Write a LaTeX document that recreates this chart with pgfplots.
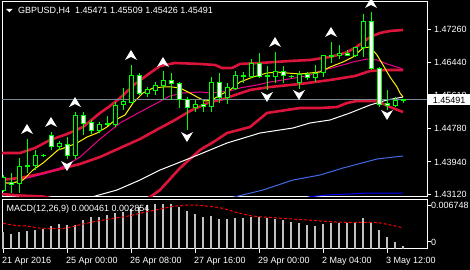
\documentclass[border=0pt]{standalone}
\usepackage{fontspec}
\setmainfont{Liberation Sans}
\usepackage{pgfplots}
\pgfplotsset{compat=1.18}
\usepackage{pgfplotstable}
\definecolor{mtred}{RGB}{220,20,60}
\definecolor{mtlime}{RGB}{0,255,0}
\definecolor{mtgrey}{RGB}{119,136,153}
\definecolor{mtroyal}{RGB}{65,105,225}
\definecolor{mtsilver}{RGB}{192,192,192}
\newcommand\mtfont{\fontsize{9bp}{10bp}\selectfont}

\pgfdeclareplotmark{fracup}{%
  \pgfpathmoveto{\pgfqpoint{0bp}{5bp}}%
  \pgfpathlineto{\pgfqpoint{6bp}{-5bp}}%
  \pgfpathlineto{\pgfqpoint{0bp}{-2bp}}%
  \pgfpathlineto{\pgfqpoint{-6bp}{-5bp}}%
  \pgfpathclose\pgfusepathqfill}
\pgfdeclareplotmark{fracdown}{%
  \pgfpathmoveto{\pgfqpoint{0bp}{-5bp}}%
  \pgfpathlineto{\pgfqpoint{6bp}{5bp}}%
  \pgfpathlineto{\pgfqpoint{0bp}{2bp}}%
  \pgfpathlineto{\pgfqpoint{-6bp}{5bp}}%
  \pgfpathclose\pgfusepathqfill}

\pgfplotstableread{
i o h l c
0 1.43238 1.43613 1.43188 1.43563
1 1.43420 1.43671 1.43170 1.43370
2 1.43405 1.44031 1.43170 1.43838
3 1.43831 1.44507 1.43671 1.43846
4 1.43856 1.44239 1.43738 1.44106
5 1.44101 1.44131 1.44056 1.44114
6 1.44614 1.44697 1.44239 1.44322
7 1.44322 1.44464 1.44239 1.44407
8 1.44389 1.44572 1.44006 1.44106
9 1.44106 1.45183 1.44006 1.45090
10 1.45090 1.45183 1.44614 1.44907
11 1.44922 1.44990 1.44639 1.44722
12 1.44722 1.44940 1.44657 1.44865
13 1.44865 1.45090 1.44840 1.44897
14 1.44865 1.45448 1.44807 1.45365
15 1.45383 1.45783 1.45240 1.45448
16 1.45433 1.46367 1.45408 1.46091
17 1.46091 1.46159 1.45616 1.45658
18 1.45658 1.45823 1.45573 1.45741
19 1.45723 1.45948 1.45616 1.45841
20 1.45841 1.46216 1.45490 1.45966
21 1.45966 1.46159 1.45490 1.45908
22 1.45908 1.45949 1.45283 1.45508
23 1.45508 1.45573 1.44740 1.45308
24 1.45308 1.45490 1.45198 1.45390
25 1.45390 1.45490 1.45198 1.45333
26 1.45323 1.46059 1.45198 1.45933
27 1.45933 1.46159 1.45408 1.45548
28 1.45548 1.45908 1.45383 1.45798
29 1.45783 1.46216 1.45741 1.46116
30 1.46086 1.46199 1.45908 1.46096
31 1.46074 1.46509 1.46034 1.46409
32 1.46409 1.46659 1.46034 1.46074
33 1.46084 1.46341 1.45741 1.46096
34 1.46074 1.46699 1.45908 1.46199
35 1.46199 1.46341 1.45908 1.46091
36 1.46084 1.46116 1.46041 1.46071
37 1.45916 1.46216 1.45778 1.46134
38 1.46124 1.46199 1.45991 1.46059
39 1.46059 1.46367 1.45949 1.46159
40 1.46174 1.46617 1.46059 1.46592
41 1.46587 1.46950 1.46409 1.46597
42 1.46599 1.46867 1.46509 1.46659
43 1.46659 1.46742 1.46579 1.46592
44 1.46592 1.46825 1.46574 1.46810
45 1.46800 1.47643 1.46574 1.47450
46 1.47450 1.47701 1.46241 1.46284
47 1.46284 1.46324 1.45308 1.45383
48 1.45403 1.45741 1.45240 1.45365
49 1.45358 1.45573 1.45323 1.45490
50 1.45471 1.45509 1.45426 1.45491
}\candles

\pgfplotstableread{
i m s
0 0.002335 0.003468
1 0.002065 0.003266
2 0.002335 0.003131
3 0.002470 0.003104
4 0.002605 0.002902
5 0.002740 0.002767
6 0.003145 0.002740
7 0.003414 0.002740
8 0.003280 0.002834
9 0.003280 0.003104
10 0.003954 0.003374
11 0.004359 0.003603
12 0.004359 0.003806
13 0.004629 0.003995
14 0.004899 0.004184
15 0.005034 0.004319
16 0.005439 0.004521
17 0.005709 0.004791
18 0.005979 0.005034
19 0.006114 0.005236
20 0.006114 0.005466
21 0.006114 0.005709
22 0.005709 0.005844
23 0.005169 0.005938
24 0.004764 0.005938
25 0.004359 0.005844
26 0.004494 0.005736
27 0.004089 0.005601
28 0.004089 0.005331
29 0.004224 0.004994
30 0.004224 0.004724
31 0.004359 0.004481
32 0.004359 0.004359
33 0.004224 0.004292
34 0.004089 0.004224
35 0.003954 0.004116
36 0.003684 0.004062
37 0.003549 0.003981
38 0.003280 0.003914
39 0.003145 0.003846
40 0.003414 0.003752
41 0.003549 0.003684
42 0.003549 0.003617
43 0.003549 0.003603
44 0.003549 0.003603
45 0.004224 0.003603
46 0.003549 0.003603
47 0.002605 0.003549
48 0.001660 0.003334
49 0.000985 0.003104
50 0.000461 0.002854
}\macd

\pgfplotsset{
  mtaxis/.style={
    scale only axis, xmin=-0.125, xmax=53,
    axis line style={white, line width=1bp},
    tick style={white, line width=1bp},
    major tick length=4bp, tick align=outside,
    ytick pos=right, yticklabel pos=right,
    scaled ticks=false,
    ticklabel style={text=white, font=\mtfont},
    yticklabel style={anchor=west, inner sep=0pt, xshift=3bp},
  }
}

\begin{document}
\begin{tikzpicture}
\fill[black] (0bp,0bp) rectangle (470bp,270bp);

\begin{axis}[mtaxis, at={(2bp,73bp)}, anchor=south west,
  width=425bp, height=195bp,
  ymin=1.43063, ymax=1.47943,
  xtick=\empty,
  ytick={1.43120,1.43940,1.44780,1.45610,1.46440,1.47260},
  yticklabels={1.43120,1.43940,1.44780,1.45610,1.46440,1.47260},
  extra y ticks={1.45491}, extra y tick labels={1.45491},
  extra y tick style={yticklabel style={fill=white, text=black, minimum width=42bp, minimum height=11bp, xshift=-6bp}},
]
% Bollinger bands
\addplot[mtred, line width=2.6bp, line join=round] coordinates {(-0.375,1.44164) (2.125,1.44164) (4,1.44289) (5.875,1.44489) (8,1.44639) (10,1.44815) (12.125,1.45165) (13.375,1.45340) (14.625,1.45540) (16.5,1.45891) (18.375,1.46166) (19.625,1.46341) (21.5,1.46417) (24.625,1.46392) (26.5,1.46367) (27.375,1.46291) (28.625,1.46291) (29.625,1.46392) (32.125,1.46417) (35.875,1.46467) (38.375,1.46492) (40.875,1.46567) (42.75,1.46667) (44,1.46792) (44.875,1.46917) (45.875,1.47067) (47.125,1.47167) (48.375,1.47217) (50,1.47243)};
\addplot[mtred, line width=2.6bp, line join=round] coordinates {(-0.375,1.43488) (2.125,1.43538) (4.625,1.43638) (7.125,1.43763) (9.625,1.43889) (12.125,1.44064) (14.625,1.44289) (17.125,1.44514) (19.625,1.44790) (21.5,1.44990) (23.375,1.45215) (25.875,1.45440) (27.125,1.45490) (29,1.45616) (30.875,1.45741) (33.375,1.45816) (37.125,1.45891) (40.875,1.45991) (44,1.46091) (45.875,1.46216) (47.75,1.46241) (50,1.46241)};
\addplot[mtred, line width=2.6bp, line join=round] coordinates {(-0.375,1.43138) (2.125,1.43100) (5,1.43075) (7.125,1.42987) (12.125,1.42837) (17.125,1.42912) (18.375,1.43063) (19.625,1.43238) (22.125,1.43788) (24.625,1.44239) (26.5,1.44464) (28,1.44664) (30.875,1.44815) (33,1.45165) (34.625,1.45215) (37.125,1.45290) (39.625,1.45290) (41.75,1.45315) (43,1.45415) (44.25,1.45465) (46.75,1.45465) (48.375,1.45315) (50,1.45190)};
% slow averages
\addplot[white, line width=1bp] coordinates {(10.625,1.43037) (14.25,1.43238) (17.125,1.43488) (19.625,1.43738) (23.75,1.44064) (28,1.44414) (32.125,1.44664) (36.25,1.44790) (38.375,1.44915) (40.875,1.44990) (43.375,1.45165) (45.875,1.45365) (48,1.45490) (50,1.45566)};
\addplot[mtroyal, line width=1bp] coordinates {(28.375,1.43037) (32.5,1.43238) (36.25,1.43488) (39.625,1.43613) (42.5,1.43788) (46.75,1.44014) (50,1.44089)};
\addplot[blue, line width=1bp] coordinates {(37.75,1.43037) (38.375,1.43070) (40.5,1.43113) (43.375,1.43138) (45.5,1.43163) (50,1.43163)};
% fast averages
\addplot[magenta, line width=1bp] coordinates {(0,1.43438) (1.25,1.43413) (2.5,1.43513) (5,1.43638) (7.125,1.43788) (8.375,1.43914) (9.625,1.44064) (10.875,1.44289) (12.125,1.44514) (13.375,1.44715) (14.625,1.44915) (17.125,1.45190) (19.25,1.45415) (20.875,1.45591) (22.5,1.45666) (24.625,1.45691) (25.875,1.45666) (28.375,1.45716) (29.625,1.45791) (31.75,1.45866) (33.375,1.45941) (35,1.45991) (37.125,1.46066) (38.375,1.46116) (39.625,1.46216) (42.5,1.46367) (43.75,1.46442) (45.5,1.46517) (46.75,1.46492) (48,1.46392) (49.625,1.46291) (50,1.46241)};
\addplot[yellow, line width=1bp] coordinates {(0,1.43413) (1.25,1.43413) (2.5,1.43488) (3.75,1.43738) (5,1.43914) (5.875,1.44064) (6.875,1.44239) (8,1.44314) (9.25,1.44414) (10.5,1.44564) (11.75,1.44664) (13,1.44815) (14,1.44990) (15.25,1.45115) (16.25,1.45415) (17.5,1.45666) (18.75,1.45791) (20,1.45816) (21.125,1.45816) (22.125,1.45791) (23.125,1.45691) (24.25,1.45566) (25.25,1.45465) (26.125,1.45490) (27.125,1.45616) (28.375,1.45741) (29.625,1.45941) (31.25,1.46066) (33,1.46166) (34.25,1.46191) (35.5,1.46166) (37.125,1.46141) (38.375,1.46166) (39.625,1.46191) (40.875,1.46316) (42.5,1.46442) (43.75,1.46567) (45,1.46792) (45.875,1.46817) (46.75,1.46617) (47.5,1.46367) (48.375,1.46066) (49.25,1.45816) (49.625,1.45666) (50,1.45566)};
% bid line
\addplot[mtgrey, line width=1bp] coordinates {(-1,1.45491) (54,1.45491)};
% candles
\pgfplotsinvokeforeach{0,...,50}{%
  \pgfplotstablegetelem{#1}{o}\of\candles \let\cO\pgfplotsretval
  \pgfplotstablegetelem{#1}{h}\of\candles \let\cH\pgfplotsretval
  \pgfplotstablegetelem{#1}{l}\of\candles \let\cL\pgfplotsretval
  \pgfplotstablegetelem{#1}{c}\of\candles \let\cC\pgfplotsretval
  \pgfmathsetmacro\xa{#1-0.25}%
  \pgfmathsetmacro\xb{#1+0.25}%
  \ifdim\cC pt>\cO pt \def\bfill{black}\else\def\bfill{white}\fi
  \edef\doit{%
    \noexpand\addplot[draw=mtlime, line width=1bp] coordinates {(#1,\cL) (#1,\cH)};%
    \noexpand\addplot[draw=mtlime, fill=\bfill, line width=1bp, line cap=rect, line join=miter] coordinates {(\xa,\cO) (\xb,\cO) (\xb,\cC) (\xa,\cC) (\xa,\cO)};%
  }%
  \doit
}
% fractals
\addplot[white, only marks, mark=fracup] coordinates {(3,1.44765) (6,1.44940) (9,1.45440) (16,1.46617) (20,1.46442) (34,1.46942) (41,1.47193) (46,1.47918)};
\addplot[white, only marks, mark=fracdown] coordinates {(8,1.43838) (23,1.44564) (33,1.45566) (37,1.45616) (48,1.45115)};
\end{axis}

\begin{axis}[mtaxis, at={(2bp,21bp)}, anchor=south west,
  width=425bp, height=50bp,
  ymin=0, ymax=0.006748,
  ytick={0.000945,0.005938}, yticklabels={0,0.006748},
  yticklabel style={xshift=-3bp},
  xtick pos=bottom,
  xtick={0,8,16,24,32,40,48},
  xticklabels={21 Apr 2016,25 Apr 00:00,26 Apr 08:00,27 Apr 16:00,29 Apr 00:00,2 May 04:00,3 May 12:00},
  xticklabel style={anchor=north west, inner sep=0pt, xshift=-1bp, yshift=-4bp},
]
\addplot[ycomb, mtsilver, line width=1.3bp] table[x=i, y=m] {\macd};
\addplot[red, line width=1bp, dash pattern=on 3bp off 2bp] table[x=i, y=s] {\macd};
\end{axis}

\fill[white] (6bp,261bp) -- (12.7bp,261bp) -- (9.35bp,257.7bp) -- cycle;
\node[anchor=base west, text=white, inner sep=0pt, font=\mtfont] at (18bp,256bp) {GBPUSD,H4\ \ 1.45471 1.45509 1.45426 1.45491};
\node[anchor=base west, text=white, inner sep=0pt, font=\mtfont] at (6.5bp,58.3bp) {MACD(12,26,9) 0.000461 0.002854};
\pgfresetboundingbox
\useasboundingbox (0bp,0bp) rectangle (470bp,270bp);
\end{tikzpicture}
\end{document}
